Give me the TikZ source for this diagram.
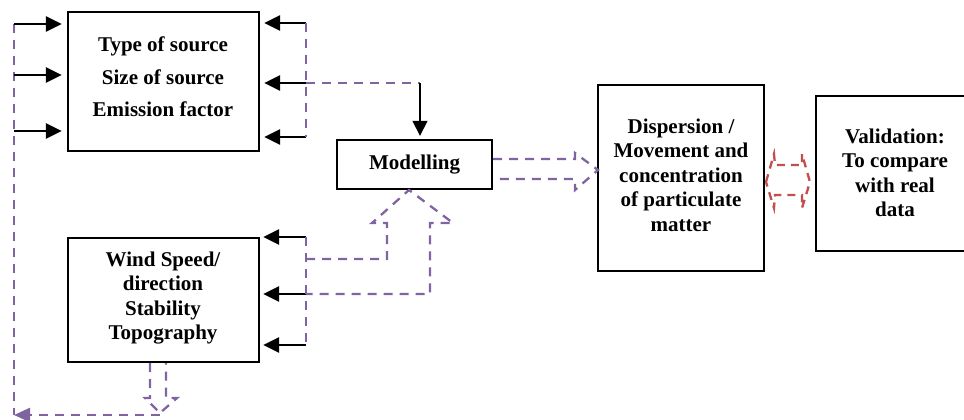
\documentclass[tikz,border=0pt]{standalone}
\usepackage{fontspec}
\setmainfont{Liberation Serif}
\usetikzlibrary{arrows.meta}
\definecolor{vio}{RGB}{128,100,162}
\definecolor{rd}{RGB}{192,80,77}
\begin{document}
\begin{tikzpicture}[x=1pt,y=-1pt,
  box/.style={draw,line width=2.3pt,inner sep=0pt},
  txt/.style={font=\fontsize{21}{24.5}\selectfont\bfseries,align=center,inner sep=0pt},
  blk/.style={line width=2.6pt,-{Triangle[length=16pt,width=15pt]}},
  pdash/.style={draw=vio,line width=2.3pt,dash pattern=on 9pt off 7pt},
  rdash/.style={draw=rd,line width=2.3pt,dash pattern=on 8pt off 6pt}]
\useasboundingbox (0,0) rectangle (964,420);

% boxes
\node[box,minimum width=191pt,minimum height=139pt] (src) at (163.5,81.5) {};
\node[box,minimum width=191pt,minimum height=124pt] (met) at (163.5,300) {};
\node[box,minimum width=155pt,minimum height=49pt] (mod) at (414.5,164.5) {};
\node[box,minimum width=166pt,minimum height=186pt] (dis) at (681,178) {};
\node[box,minimum width=156pt,minimum height=155pt] (val) at (894,173.5) {};

% texts
\node[txt,font=\fontsize{21}{32.5}\selectfont\bfseries] (srct) at (163,77) {Type of source\\Size of source\\Emission factor};
\node[txt] (mett) at (163,298) {Wind Speed/\\direction\\Stability\\Topography};
\node[txt] (modt) at (414.5,165) {Modelling};
\node[txt] (dist) at (681,175) {Dispersion /\\Movement and\\concentration\\of particulate\\matter};
\node[txt] (valt) at (895,173) {Validation:\\To compare\\with real\\data};

% left feedback line and arrows
\coordinate (ltop) at (14,24);
\coordinate (lbot) at (14,415);
\draw[pdash] (ltop) -- (lbot);
\foreach \y [count=\i] in {24,75,131} {
  \coordinate (la\i) at (14,\y);
  \draw[blk,shorten >=5pt] (la\i) -- (la\i -| src.west);
}

% right arrows top box
\foreach \y [count=\i] in {23,83,137} {
  \coordinate (ra\i) at (306,\y);
  \draw[blk,shorten >=4pt] (ra\i) -- (ra\i -| src.east);
}
\draw[pdash] (ra1) -- (ra3);
\coordinate (tk) at (420,83);
\draw[pdash] (ra2) -- (tk);
\draw[line width=1.2pt,-{Triangle[length=15pt,width=15pt]},shorten >=3pt] (tk) -- (tk |- mod.north);

% right arrows bottom box
\foreach \y [count=\i] in {237,294,345} {
  \coordinate (rb\i) at (306,\y);
  \draw[blk,shorten >=3pt] (rb\i) -- (rb\i -| met.east);
}
\draw[pdash] (rb1) -- (rb3);

% hollow up arrow into Modelling
\draw[pdash] (306,259) -- (387,259) -- (387,223) -- (372,223) -- (409,190)
  -- (453,223) -- (430,223) -- (430,294) -- (rb2);

% hollow right arrow Modelling -> Dispersion
\draw[pdash] (mod.east |- 0,159) -- (575,159) -- (575,153) -- (598,170)
  -- (575,190) -- (575,179) -- (mod.east |- 0,179);

% hollow down arrow from bottom box
\draw[pdash] (met.south -| 150,0) -- (150,398) -- (145,398) -- (160,413)
  -- (177,398) -- (166,398) -- (met.south -| 166,0);

% bottom return arrow
\coordinate (bstart) at (160,415);
\draw[pdash,-{Triangle[length=16pt,width=14pt]}] (bstart) -- (lbot);

% red double hollow arrow
\draw[rdash] (766,182) -- (774,154) -- (775,165) -- (802,165) -- (802,154)
  -- (810,182) -- (802,208) -- (802,195) -- (775,195) -- (774,208) -- cycle;
\end{tikzpicture}
\end{document}
